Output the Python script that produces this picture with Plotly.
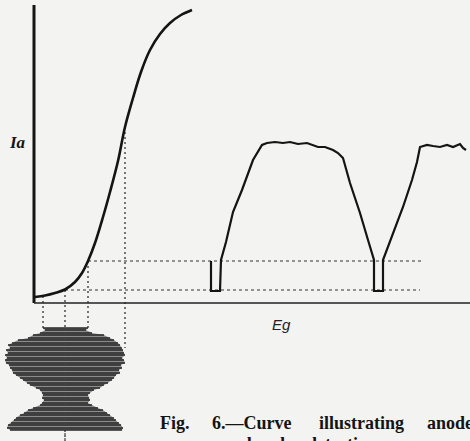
import plotly.graph_objects as go

# ---- data (page-pixel units of the original diagram) ----
# anode-current / grid-voltage characteristic (S-curve)
curve_x = [35, 45, 55, 65, 75, 82, 88, 95, 103, 110, 118, 125, 133, 141, 150, 160, 170, 181, 192]
curve_y = [297, 295.5, 293, 289.5, 282, 273, 261, 243, 217, 192, 161, 127, 98, 72, 50, 34, 23, 15, 10]

# rectified anode-current waveform
wave_x = [211, 211, 220, 221, 226, 233, 242, 253, 262, 267, 275, 283, 290, 298, 307, 313, 318, 325,
          333, 338, 343, 350, 360, 368, 374, 374, 383, 383, 388, 393, 403, 412, 417, 420, 427, 433,
          440, 447, 453, 460, 463, 466]
wave_y = [261, 291, 291, 260, 242, 212, 190, 160, 145, 143, 142, 143, 142, 144, 143, 145, 147, 147,
          150, 153, 158, 183, 213, 240, 260, 291, 291, 260, 247, 233, 207, 180, 162, 147, 145, 146,
          147, 145, 147, 144, 148, 150]

# projection lines
hproj_y = [261, 290]
hproj_x0 = [88, 65]
hproj_x1 = [422, 420]
vproj_x = [43, 65, 88, 125]
vproj_y0 = [296, 290, 261, 127]
vproj_y1 = [328, 441, 328, 348]

# modulated grid signal (stack of oscillation lines)
blob_y = [328, 330, 333, 335, 338, 340, 343, 345, 348, 350, 353, 355, 358, 360, 363, 365, 368, 370,
          373, 375, 378, 380, 383, 385, 388, 390, 393, 395, 398, 400, 403, 405, 408, 410, 413, 415,
          418, 420, 423, 425, 428, 430]
blob_left = [43, 45, 40, 33, 28, 18, 12, 8, 10, 6, 8, 5, 7, 5, 6, 9, 10, 12,
             13, 16, 20, 23, 27, 30, 36, 40, 42, 43, 42, 44, 42, 40, 33, 28, 24, 20,
             16, 14, 11, 8, 7, 10]
blob_right = [88, 86, 92, 104, 110, 114, 118, 120, 122, 123, 124, 125, 122, 124, 125, 121, 122, 119,
              120, 116, 114, 112, 108, 104, 100, 94, 90, 88, 89, 90, 88, 92, 98, 103, 107, 110,
              114, 116, 119, 121, 123, 122]

# axes
vaxis_x = [34, 34]
vaxis_y = [5, 303]
haxis_x = [34, 470]
haxis_y = [303, 303]

INK = "#141414"
BG = "#f3f3f1"
fig = go.Figure()

# projection lines (dotted)
hx, hy = [], []
for y, a, b in zip(hproj_y, hproj_x0, hproj_x1):
    hx += [a, b, None]
    hy += [y, y, None]
fig.add_trace(go.Scatter(x=hx, y=hy, mode="lines",
                         line=dict(color="#333", width=1.2, dash="3px,3px")))
vx, vy = [], []
for x, a, b in zip(vproj_x, vproj_y0, vproj_y1):
    vx += [x, x, None]
    vy += [a, b, None]
fig.add_trace(go.Scatter(x=vx, y=vy, mode="lines",
                         line=dict(color="#333", width=1.3, dash="2px,3px")))

# blob: gray body + dark horizontal lines
poly_x = blob_left + blob_right[::-1]
poly_y = blob_y + blob_y[::-1]
fig.add_trace(go.Scatter(x=poly_x, y=poly_y, mode="lines", fill="toself",
                         fillcolor="#8c8c8c", line=dict(width=0)))
bx, by = [], []
for y, a, b in zip(blob_y, blob_left, blob_right):
    bx += [a, b, None]
    by += [y, y, None]
fig.add_trace(go.Scatter(x=bx, y=by, mode="lines", line=dict(color="#262626", width=1.6)))
fig.add_trace(go.Scatter(x=[65, 65], y=[328, 441], mode="lines",
                         line=dict(color="#444", width=1.2, dash="2px,3px")))

# axes
fig.add_trace(go.Scatter(x=vaxis_x, y=vaxis_y, mode="lines", line=dict(color=INK, width=3)))
fig.add_trace(go.Scatter(x=haxis_x, y=haxis_y, mode="lines", line=dict(color="#222", width=1.6)))

# characteristic curve and waveform
fig.add_trace(go.Scatter(x=curve_x, y=curve_y, mode="lines",
                         line=dict(color=INK, width=2.6, shape="spline", smoothing=1.0)))
fig.add_trace(go.Scatter(x=wave_x, y=wave_y, mode="lines", line=dict(color=INK, width=2.2)))

ann = [
    dict(x=17, y=142, text="<b><i>Ia</i></b>", font=dict(family="Liberation Serif", size=17, color=INK)),
    dict(x=281, y=324, text="<i>Eg</i>", font=dict(family="Liberation Sans", size=15, color="#222")),
]
cap_words = ["Fig.", "6.\u2014Curve", "illustrating", "anode", "bend", "detection."]
cap_x = [158, 210, 317, 425, 245, 305]
cap_y = [423, 423, 423, 423, 440, 440]
cap_shift = [0, 0, 0, 0, -4, -4]
for w, x, y, s in zip(cap_words, cap_x, cap_y, cap_shift):
    ann.append(dict(x=x, y=y, yshift=s, text="<b>" + w + "</b>", xanchor="left",
                    font=dict(family="Liberation Serif", size=18, color=INK)))
for a in ann:
    a.setdefault("xanchor", "center")
    a.update(xref="x", yref="y", showarrow=False, yanchor="middle")

fig.update_layout(
    width=470, height=441, margin=dict(l=0, r=0, t=0, b=0),
    paper_bgcolor=BG, plot_bgcolor=BG, showlegend=False,
    xaxis=dict(range=[0, 470], visible=False, fixedrange=True),
    yaxis=dict(range=[441, 0], visible=False, fixedrange=True),
    annotations=ann,
)
fig.write_html(
    "out.html",
    config={"displayModeBar": False},
    post_script="document.body.style.margin='0';document.body.style.overflow='hidden';"
                "document.body.style.background='" + BG + "';",
)
